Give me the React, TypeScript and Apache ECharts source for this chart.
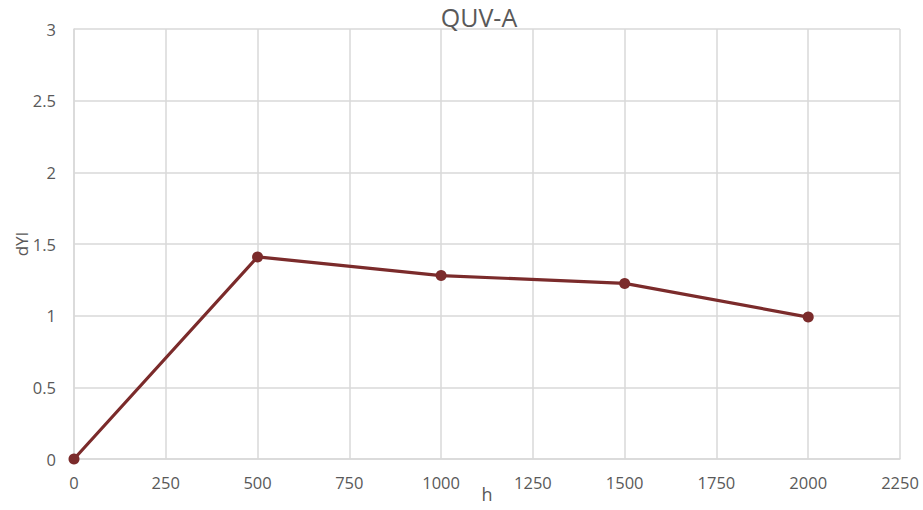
import React, { useEffect, useRef } from "react";
import * as echarts from "echarts";

const hours = [0, 500, 1000, 1500, 2000];
const dYI = [0, 1.41, 1.28, 1.225, 0.99];
const titleText = "QUV-A";
const xName = "h";
const yName = "dYI";

export default function App() {
  const ref = useRef<HTMLDivElement>(null);
  useEffect(() => {
    if (!ref.current) return;
    const chart = echarts.init(ref.current, null, { renderer: "svg" });
    const font = "'Open Sans', sans-serif";
    chart.setOption({
      animation: false,
      backgroundColor: "#ffffff",
      title: {
        text: titleText,
        left: 474,
        top: -1,
        textAlign: "center",
        textStyle: { color: "#595959", fontSize: 25, fontWeight: "normal", fontFamily: font },
      },
      grid: { left: 74, right: 23, top: 29, bottom: 51, containLabel: false, outerBoundsMode: "none" },
      xAxis: {
        type: "value",
        min: 0,
        max: 2250,
        interval: 250,
        name: xName,
        nameLocation: "middle",
        nameGap: 26,
        nameMoveOverlap: false,
        nameTextStyle: { color: "#595959", fontSize: 18, fontFamily: font },
        axisLine: { show: true, lineStyle: { color: "#d9d9d9", width: 1.5 } },
        axisTick: { show: false },
        axisLabel: {
          color: "#595959",
          fontSize: 16.5,
          fontFamily: font,
          margin: 15,
          formatter: (v: number) => String(v),
        },
        splitLine: { show: true, lineStyle: { color: "#d9d9d9", width: 1.5 } },
      },
      yAxis: {
        type: "value",
        min: 0,
        max: 3,
        interval: 0.5,
        name: yName,
        nameLocation: "middle",
        nameGap: 44,
        nameMoveOverlap: false,
        nameTextStyle: { color: "#595959", fontSize: 17, fontFamily: font },
        axisLine: { show: true, lineStyle: { color: "#d9d9d9", width: 1.5 } },
        axisTick: { show: false },
        axisLabel: {
          color: "#595959",
          fontSize: 16.5,
          fontFamily: font,
          margin: 18,
          formatter: (v: number) => String(v),
        },
        splitLine: { show: true, lineStyle: { color: "#d9d9d9", width: 1.5 } },
      },
      series: [
        {
          type: "line",
          data: hours.map((h, i) => [h, dYI[i]]),
          symbol: "circle",
          symbolSize: 11,
          lineStyle: { color: "#7b2b2b", width: 3.2 },
          itemStyle: { color: "#7b2b2b" },
        },
      ],
    });
    return () => chart.dispose();
  }, []);
  return <div ref={ref} style={{ position: "fixed", left: 0, top: 0, width: 923, height: 510 }} />;
}
